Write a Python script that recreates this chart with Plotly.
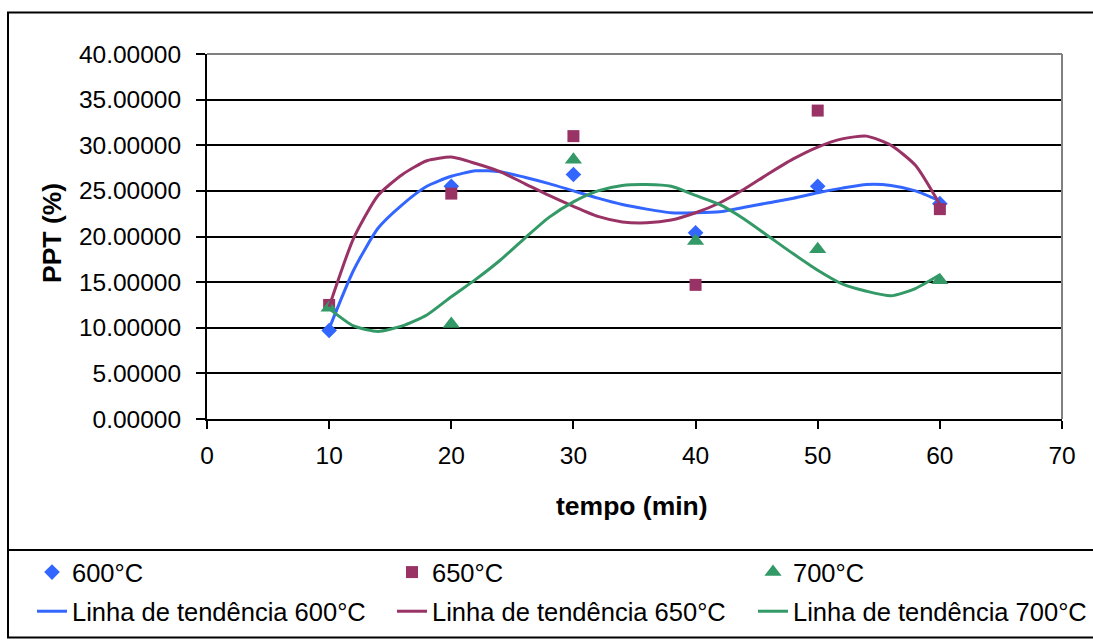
import plotly.graph_objects as go

# ---- data ----
tempo = [10, 20, 30, 40, 50, 60]
ppt_600 = [9.7, 25.5, 26.8, 20.4, 25.5, 23.6]
ppt_650 = [12.5, 24.7, 31.0, 14.7, 33.8, 23.0]
ppt_700 = [12.2, 10.4, 28.4, 19.5, 18.6, 15.2]

# trend lines as drawn in the reference (read every 2 min)
trend_x = [10, 12, 14, 16, 18, 20, 22, 24, 26, 28, 30, 32, 34, 36, 38, 40,
           42, 44, 46, 48, 50, 52, 54, 56, 58, 60]
trend_600 = [9.9, 16.3, 20.9, 23.5, 25.5, 26.6, 27.2, 27.1, 26.5, 25.8, 25.0,
             24.2, 23.5, 23.0, 22.6, 22.6, 22.7, 23.2, 23.7, 24.2, 24.8, 25.3,
             25.7, 25.6, 25.0, 23.9]
trend_650 = [12.3, 19.8, 24.5, 26.8, 28.3, 28.7, 28.0, 27.1, 25.8, 24.5, 23.3,
             22.2, 21.6, 21.5, 21.8, 22.6, 23.7, 25.2, 26.9, 28.5, 29.8, 30.7,
             31.0, 30.0, 27.8, 23.5]
trend_700 = [12.1, 10.2, 9.6, 10.2, 11.4, 13.4, 15.3, 17.4, 19.8, 22.1, 23.8,
             25.0, 25.6, 25.7, 25.5, 24.5, 23.5, 21.9, 20.0, 18.1, 16.3, 14.8,
             14.0, 13.5, 14.3, 15.8]

x_ticks = [0, 10, 20, 30, 40, 50, 60, 70]
y_ticks = [0, 5, 10, 15, 20, 25, 30, 35, 40]

series_names = ["600°C", "650°C", "700°C"]
trend_names = ["Linha de tendência 600°C", "Linha de tendência 650°C",
               "Linha de tendência 700°C"]

# ---- styling ----
BLUE = "#3366FF"
PURPLE = "#993366"
GREEN = "#339966"
FONT = "Liberation Sans, Arial, sans-serif"

W, H = 1093, 641
L, R, T, B = 207, 1062, 54, 419   # plot area in pixels


def px_x(px):
    return (px - L) / (R - L)


def px_y(py):
    return (B - py) / (B - T)


fig = go.Figure()

colors = [BLUE, PURPLE, GREEN]
symbols = ["diamond", "square", "triangle-up"]
sizes = [12, 12, 15]
pts = [ppt_600, ppt_650, ppt_700]
trends = [trend_600, trend_650, trend_700]
legends = ["legend", "legend2", "legend3"]

for i in range(3):
    fig.add_trace(go.Scatter(
        x=tempo, y=pts[i], mode="markers", name=series_names[i],
        marker=dict(symbol=symbols[i], size=sizes[i], color=colors[i]),
        legend=legends[i], legendgroup="pts%d" % i, showlegend=True))
for i in range(3):
    fig.add_trace(go.Scatter(
        x=trend_x, y=trends[i], mode="lines", name=trend_names[i],
        line=dict(color=colors[i], width=3, shape="spline", smoothing=0.6),
        legend=legends[i], legendgroup="trend%d" % i, showlegend=True))

legend_style = dict(
    xref="container", yref="container", yanchor="top", xanchor="left",
    orientation="v", bgcolor="rgba(0,0,0,0)", borderwidth=0,
    font=dict(family=FONT, size=25.5, color="black"),
    traceorder="grouped", tracegroupgap=3, itemwidth=30,
)
leg_top = 1 - 549 / H
fig.update_layout(
    legend=dict(x=32 / W, y=leg_top, **legend_style),
    legend2=dict(x=392 / W, y=leg_top, **legend_style),
    legend3=dict(x=753 / W, y=leg_top, **legend_style),
)

fig.update_layout(
    width=W, height=H,
    margin=dict(l=L, r=W - R, t=T, b=H - B, pad=0, autoexpand=False),
    paper_bgcolor="white", plot_bgcolor="white",
    font=dict(family=FONT, size=24, color="black"),
    xaxis=dict(range=[0, 70], tickvals=x_ticks, ticktext=[str(v) for v in x_ticks],
               showgrid=False, zeroline=False, showline=True, linecolor="black",
               linewidth=2, ticks="outside", ticklen=8, tickwidth=2,
               tickcolor="black", ticklabelstandoff=6, automargin=False,
               tickfont=dict(family=FONT, size=24.5, color="black")),
    yaxis=dict(range=[0, 40], tickvals=y_ticks, tickformat=".5f",
               showgrid=True, gridcolor="black", gridwidth=1.5,
               zeroline=False, showline=True, linecolor="black", linewidth=2,
               ticks="outside", ticklen=9, tickwidth=2, tickcolor="black",
               ticklabelstandoff=10, automargin=False,
               tickfont=dict(family=FONT, size=24.5, color="black")),
    showlegend=True,
)

# axis titles
fig.add_annotation(text="<b>tempo (min)</b>", xref="paper", yref="paper",
                   x=px_x(632), y=px_y(506), showarrow=False,
                   xanchor="center", yanchor="middle",
                   font=dict(family=FONT, size=26.5, color="black"))
fig.add_annotation(text="<b>PPT (%)</b>", xref="paper", yref="paper",
                   x=px_x(52), y=px_y(233), showarrow=False, textangle=-90,
                   xanchor="center", yanchor="middle",
                   font=dict(family=FONT, size=26.5, color="black"))

# plot-area border (gray top & right), outer chart frame, legend separator
fig.add_shape(type="line", xref="paper", yref="paper", x0=0, x1=1, y0=1, y1=1,
              line=dict(color="#808080", width=2), layer="above")
fig.add_shape(type="line", xref="paper", yref="paper", x0=1, x1=1, y0=0, y1=1,
              line=dict(color="#808080", width=2), layer="above")
fig.add_shape(type="rect", xref="paper", yref="paper",
              x0=px_x(8), x1=px_x(1110), y0=px_y(637.5), y1=px_y(12.5),
              line=dict(color="black", width=2), fillcolor="rgba(0,0,0,0)",
              layer="below")
fig.add_shape(type="line", xref="paper", yref="paper",
              x0=px_x(8), x1=px_x(1110), y0=px_y(550), y1=px_y(550),
              line=dict(color="black", width=2), layer="below")

fig.write_html("out.html")
